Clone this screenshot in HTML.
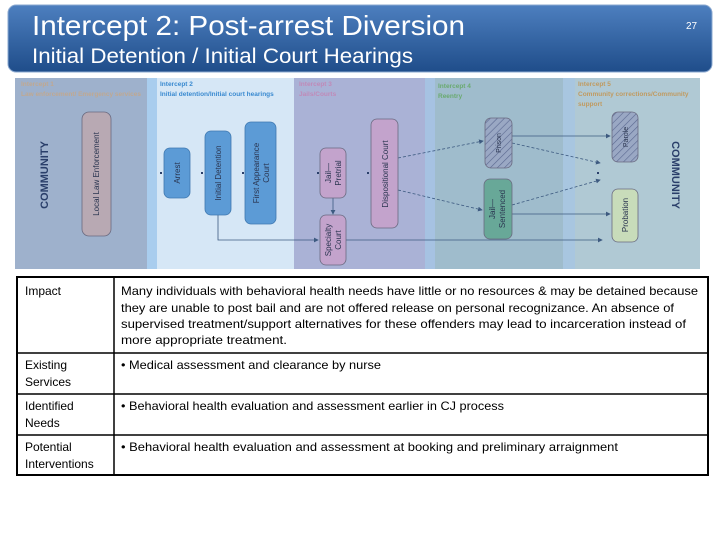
<!DOCTYPE html>
<html><head><meta charset="utf-8"><style>
html,body{margin:0;padding:0;background:#fff;width:720px;height:540px;overflow:hidden}
svg{display:block;font-family:"Liberation Sans",sans-serif}
</style></head><body>
<svg width="720" height="540" viewBox="0 0 720 540">
<defs>
<linearGradient id="hg" x1="0" y1="0" x2="0" y2="1"><stop offset="0" stop-color="#4d7fbf"/><stop offset="1" stop-color="#1f4d8a"/></linearGradient>
<pattern id="hat" width="5" height="5" patternUnits="userSpaceOnUse" patternTransform="rotate(45)"><rect width="5" height="5" fill="#9aa8c4"/><line x1="0" y1="0" x2="0" y2="5" stroke="#5a6890" stroke-width="1.2"/></pattern>
<marker id="ar" markerWidth="6" markerHeight="6" refX="5" refY="3" orient="auto"><path d="M0,0 L6,3 L0,6z" fill="#3d5a80"/></marker>
</defs>
<rect x="8" y="5" width="704" height="67" rx="8" fill="url(#hg)" stroke="#8aa8d0"/>
<text x="32" y="35" fill="#fff" font-size="28" textLength="433" lengthAdjust="spacingAndGlyphs">Intercept 2:  Post-arrest Diversion</text>
<text x="32" y="63" fill="#fff" font-size="21" textLength="381" lengthAdjust="spacingAndGlyphs">Initial Detention / Initial Court Hearings</text>
<text x="686" y="29" fill="#fff" font-size="10">27</text>
<!-- bands -->
<rect x="15" y="78" width="132" height="191" fill="#9eb1cc"/>
<rect x="147" y="78" width="10" height="191" fill="#a9cdee"/>
<rect x="157" y="78" width="137" height="191" fill="#d6e7f6"/>
<rect x="294" y="78" width="131" height="191" fill="#aab2d6"/>
<rect x="425" y="78" width="10" height="191" fill="#a6c2e2"/>
<rect x="435" y="78" width="128" height="191" fill="#9fbccc"/>
<rect x="563" y="78" width="12" height="191" fill="#a8c6e0"/>
<rect x="575" y="78" width="125" height="191" fill="#b0c9d4"/>
<g font-size="6.5" font-weight="bold">
<text x="21" y="86" fill="#c0a890">Intercept 1</text><text x="21" y="96" fill="#c0a890">Law enforcement/ Emergency services</text>
<text x="160" y="86" fill="#3a8ad0">Intercept 2</text><text x="160" y="96" fill="#3a8ad0">Initial detention/Initial court hearings</text>
<text x="299" y="86" fill="#c08ab8">Intercept 3</text><text x="299" y="96" fill="#c08ab8">Jails/Courts</text>
<text x="438" y="88" fill="#6aaa70">Intercept 4</text><text x="438" y="98" fill="#6aaa70">Reentry</text>
<text x="578" y="86" fill="#c09a60">Intercept 5</text><text x="578" y="96" fill="#c09a60">Community corrections/Community</text><text x="578" y="106" fill="#c09a60">support</text>
</g>
<text transform="translate(48,175) rotate(-90)" text-anchor="middle" font-size="11" font-weight="bold" fill="#2a3f6a">COMMUNITY</text>
<text transform="translate(672,175) rotate(90)" text-anchor="middle" font-size="11" font-weight="bold" fill="#2a3f6a">COMMUNITY</text>
<!-- connectors -->
<g stroke="#3d5a80" stroke-width="0.8" fill="none">
<polyline points="218,215 218,240 318,240" marker-end="url(#ar)"/>
<line x1="346" y1="240" x2="602" y2="240" marker-end="url(#ar)"/>
<line x1="333" y1="198" x2="333" y2="214" marker-end="url(#ar)"/>
<line x1="512" y1="136" x2="610" y2="136" marker-end="url(#ar)"/>
<line x1="512" y1="214" x2="610" y2="214" marker-end="url(#ar)"/>
<g stroke-dasharray="3,2">
<line x1="398" y1="158" x2="483" y2="141" marker-end="url(#ar)"/>
<line x1="398" y1="190" x2="482" y2="210" marker-end="url(#ar)"/>
<line x1="512" y1="143" x2="600" y2="163" marker-end="url(#ar)"/>
<line x1="512" y1="205" x2="600" y2="180" marker-end="url(#ar)"/>
</g>
</g>
<g fill="#2a3f6a"><rect x="160" y="172" width="2" height="2"/><rect x="201" y="172" width="2" height="2"/><rect x="242" y="172" width="2" height="2"/><rect x="317" y="172" width="2" height="2"/><rect x="367" y="172" width="2" height="2"/><rect x="597" y="172" width="2" height="2"/></g>
<!-- nodes -->
<g stroke="#6a6a80" stroke-width="0.8">
<rect x="82" y="112" width="29" height="124" rx="7" fill="#b8a9b3"/>
<rect x="164" y="148" width="26" height="50" rx="6" fill="#5c9bd6" stroke="#3f78b0"/>
<rect x="205" y="131" width="26" height="84" rx="6" fill="#5c9bd6" stroke="#3f78b0"/>
<rect x="245" y="122" width="31" height="102" rx="6" fill="#5c9bd6" stroke="#3f78b0"/>
<rect x="320" y="148" width="26" height="50" rx="6" fill="#c3a3cc"/>
<rect x="320" y="215" width="26" height="50" rx="6" fill="#c3a3cc"/>
<rect x="371" y="119" width="27" height="109" rx="6" fill="#c3a3cc"/>
<rect x="485" y="118" width="27" height="50" rx="6" fill="url(#hat)"/>
<rect x="484" y="179" width="28" height="60" rx="6" fill="#68a898"/>
<rect x="612" y="112" width="26" height="50" rx="6" fill="url(#hat)"/>
<rect x="612" y="189" width="26" height="53" rx="6" fill="#c8dcba"/>
</g>
<g font-size="8" fill="#2a3550" text-anchor="middle">
<text transform="translate(99,174) rotate(-90)">Local Law Enforcement</text>
<text transform="translate(180,173) rotate(-90)">Arrest</text>
<text transform="translate(221,173) rotate(-90)">Initial Detention</text>
<text transform="translate(259,173) rotate(-90)">First Appearance</text>
<text transform="translate(269,173) rotate(-90)">Court</text>
<text transform="translate(331,173) rotate(-90)">Jail—</text>
<text transform="translate(341,173) rotate(-90)">Pretrial</text>
<text transform="translate(331,240) rotate(-90)">Specialty</text>
<text transform="translate(341,240) rotate(-90)">Court</text>
<text transform="translate(388,174) rotate(-90)">Dispositional Court</text>
<text transform="translate(501,143) rotate(-90)" font-size="7">Prison</text>
<text transform="translate(495,209) rotate(-90)">Jail—</text>
<text transform="translate(505,209) rotate(-90)">Sentenced</text>
<text transform="translate(628,137) rotate(-90)" font-size="7">Parole</text>
<text transform="translate(628,215) rotate(-90)">Probation</text>
</g>
<!-- table -->
<g stroke="#000" fill="none">
<rect x="17" y="277" width="691" height="198" stroke-width="2"/>
<line x1="114" y1="277" x2="114" y2="475" stroke-width="1.5"/>
<line x1="17" y1="353" x2="708" y2="353" stroke-width="1.5"/>
<line x1="17" y1="394" x2="708" y2="394" stroke-width="1.5"/>
<line x1="17" y1="435" x2="708" y2="435" stroke-width="1.5"/>
</g>
<g font-size="12" fill="#000">
<text x="25" y="295">Impact</text>
<text x="121" y="295" textLength="577" lengthAdjust="spacingAndGlyphs">Many individuals with behavioral health needs have little or no resources &amp; may be detained because</text>
<text x="121" y="312" textLength="553" lengthAdjust="spacingAndGlyphs">they are unable to post bail and are not offered release on personal recognizance.  An absence of</text>
<text x="121" y="328" textLength="565" lengthAdjust="spacingAndGlyphs">supervised treatment/support alternatives for these offenders may lead to incarceration instead of</text>
<text x="121" y="344" textLength="166" lengthAdjust="spacingAndGlyphs">more appropriate treatment.</text>
<text x="25" y="369">Existing</text><text x="25" y="386">Services</text>
<text x="121" y="369" textLength="260" lengthAdjust="spacingAndGlyphs">•  Medical assessment and clearance by nurse</text>
<text x="25" y="410">Identified</text><text x="25" y="427">Needs</text>
<text x="121" y="410" textLength="383" lengthAdjust="spacingAndGlyphs">•  Behavioral health evaluation and assessment earlier in CJ process</text>
<text x="25" y="451">Potential</text><text x="25" y="468">Interventions</text>
<text x="121" y="451" textLength="497" lengthAdjust="spacingAndGlyphs">•  Behavioral health evaluation and assessment at booking and preliminary arraignment</text>
</g>
</svg>
</body></html>
